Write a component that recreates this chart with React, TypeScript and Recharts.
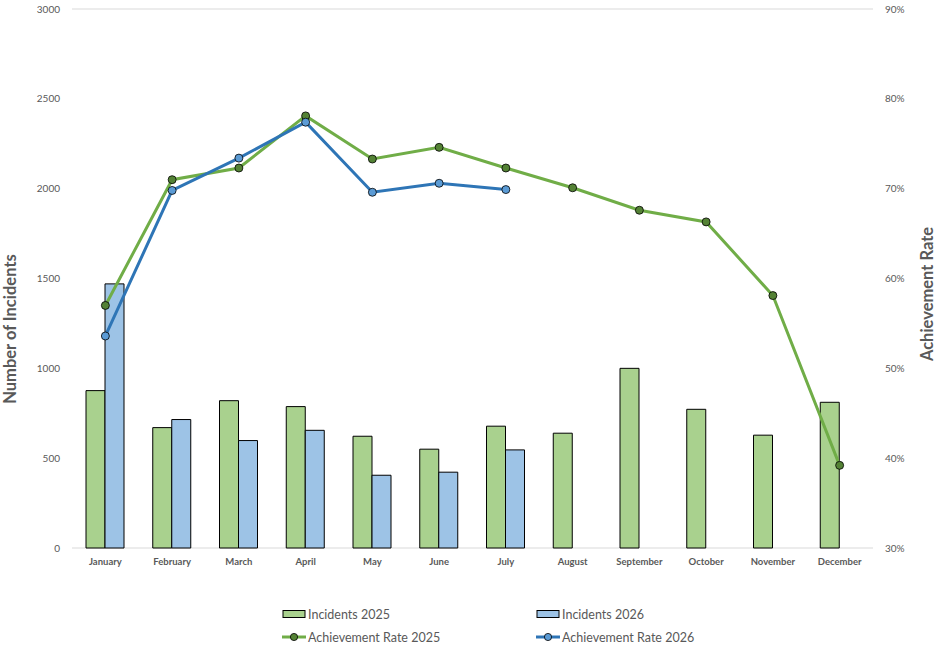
import React from "react";
import {
  ComposedChart,
  Bar,
  Line,
  XAxis,
  YAxis,
  CartesianGrid,
} from "recharts";

const months = [
  "January", "February", "March", "April", "May", "June",
  "July", "August", "September", "October", "November", "December",
];
const incidents2025 = [876, 670, 820, 787, 622, 550, 678, 639, 1000, 772, 628, 811];
const incidents2026: (number | null)[] = [1470, 715, 598, 655, 405, 422, 546, null, null, null, null, null];
const rate2025 = [0.570, 0.710, 0.723, 0.781, 0.733, 0.746, 0.723, 0.701, 0.676, 0.663, 0.581, 0.392];
const rate2026: (number | null)[] = [0.536, 0.698, 0.734, 0.774, 0.696, 0.706, 0.699, null, null, null, null, null];
const leftTicks = [0, 500, 1000, 1500, 2000, 2500, 3000];
const rightTicks = [0.3, 0.4, 0.5, 0.6, 0.7, 0.8, 0.9];

const data = months.map((m, i) => ({
  month: m,
  inc2025: incidents2025[i],
  inc2026: incidents2026[i],
  rate2025: rate2025[i],
  rate2026: rate2026[i],
}));

const FONT = "Lato, 'Open Sans', sans-serif";
const GRAY = "#595959";
const GREEN_BAR = "#A9D18E";
const BLUE_BAR = "#9DC3E6";
const GREEN_LINE = "#70AD47";
const GREEN_DOT = "#548235";
const BLUE_LINE = "#2E75B6";
const BLUE_DOT = "#5B9BD5";

const legendItems = [
  { label: "Incidents 2025", type: "bar", color: GREEN_BAR },
  { label: "Incidents 2026", type: "bar", color: BLUE_BAR },
  { label: "Achievement Rate 2025", type: "line", color: GREEN_LINE, dot: GREEN_DOT },
  { label: "Achievement Rate 2026", type: "line", color: BLUE_LINE, dot: BLUE_DOT },
];

function LegendBox() {
  return (
    <div
      style={{
        position: "absolute",
        left: 282,
        top: 605,
        width: 500,
        display: "grid",
        gridTemplateColumns: "254px 254px",
        rowGap: 5,
        fontFamily: FONT,
        fontSize: 12.5,
        color: GRAY,
      }}
    >
      {legendItems.map((it) => (
        <div key={it.label} style={{ display: "flex", alignItems: "center", height: 18 }}>
          <svg width={25} height={12} style={{ marginRight: 1 }}>
            {it.type === "bar" ? (
              <rect x={1} y={2.5} width={22} height={7} fill={it.color} stroke="#000" strokeWidth={1} />
            ) : (
              <g>
                <line x1={0} y1={6} x2={24} y2={6} stroke={it.color} strokeWidth={3} />
                <circle cx={12} cy={6} r={3.6} fill={it.dot} stroke="#000" strokeWidth={0.8} />
              </g>
            )}
          </svg>
          <span>{it.label}</span>
        </div>
      ))}
    </div>
  );
}

export default function App() {
  return (
    <div style={{ position: "absolute", left: 0, top: 0, width: 940, height: 657, background: "#fff" }}>
      <ComposedChart
        width={940}
        height={657}
        data={data}
        margin={{ top: 9, right: 0, bottom: 79, left: 0 }}
        barGap={0}
      >
        <CartesianGrid vertical={false} stroke="#d9d9d9" strokeWidth={1} />
        <XAxis
          dataKey="month"
          axisLine={false}
          tickLine={false}
          height={30}
          tickMargin={4}
          interval={0}
          tick={{ fontFamily: FONT, fontSize: 9.5, fontWeight: 700, fill: GRAY }}
        />
        <YAxis
          yAxisId="left"
          orientation="left"
          width={72}
          domain={[0, 3000]}
          ticks={leftTicks}
          axisLine={false}
          tickLine={false}
          tickSize={0}
          tickMargin={12}
          tick={{ fontFamily: FONT, fontSize: 10, fill: GRAY }}
          label={{
            content: () => (
              <text
                x={16}
                y={329}
                transform="rotate(-90 16 329)"
                textAnchor="middle"
                fontFamily={FONT}
                fontSize={16.5}
                fontWeight={700}
                fill={GRAY}
              >
                Number of Incidents
              </text>
            ),
          }}
        />
        <YAxis
          yAxisId="right"
          orientation="right"
          width={67}
          domain={[0.3, 0.9]}
          ticks={rightTicks}
          axisLine={false}
          tickLine={false}
          tickSize={0}
          tickMargin={12}
          tickFormatter={(v: number) => `${Math.round(v * 100)}%`}
          tick={{ fontFamily: FONT, fontSize: 10, fill: GRAY }}
          label={{
            content: () => (
              <text
                x={933}
                y={294}
                transform="rotate(-90 933 294)"
                textAnchor="middle"
                fontFamily={FONT}
                fontSize={16.5}
                fontWeight={700}
                fill={GRAY}
              >
                Achievement Rate
              </text>
            ),
          }}
        />
        <Bar
          yAxisId="left"
          dataKey="inc2025"
          name="Incidents 2025"
          fill={GREEN_BAR}
          stroke="#000"
          strokeWidth={1}
          barSize={19}
          isAnimationActive={false}
        />
        <Bar
          yAxisId="left"
          dataKey="inc2026"
          name="Incidents 2026"
          fill={BLUE_BAR}
          stroke="#000"
          strokeWidth={1}
          barSize={19}
          isAnimationActive={false}
        />
        <Line
          yAxisId="right"
          dataKey="rate2025"
          name="Achievement Rate 2025"
          stroke={GREEN_LINE}
          strokeWidth={3}
          dot={{ r: 4, fill: GREEN_DOT, stroke: "#000", strokeWidth: 0.8 }}
          activeDot={false}
          isAnimationActive={false}
        />
        <Line
          yAxisId="right"
          dataKey="rate2026"
          name="Achievement Rate 2026"
          stroke={BLUE_LINE}
          strokeWidth={3}
          dot={{ r: 4, fill: BLUE_DOT, stroke: "#000", strokeWidth: 0.8 }}
          activeDot={false}
          isAnimationActive={false}
        />
      </ComposedChart>
      <LegendBox />
    </div>
  );
}
